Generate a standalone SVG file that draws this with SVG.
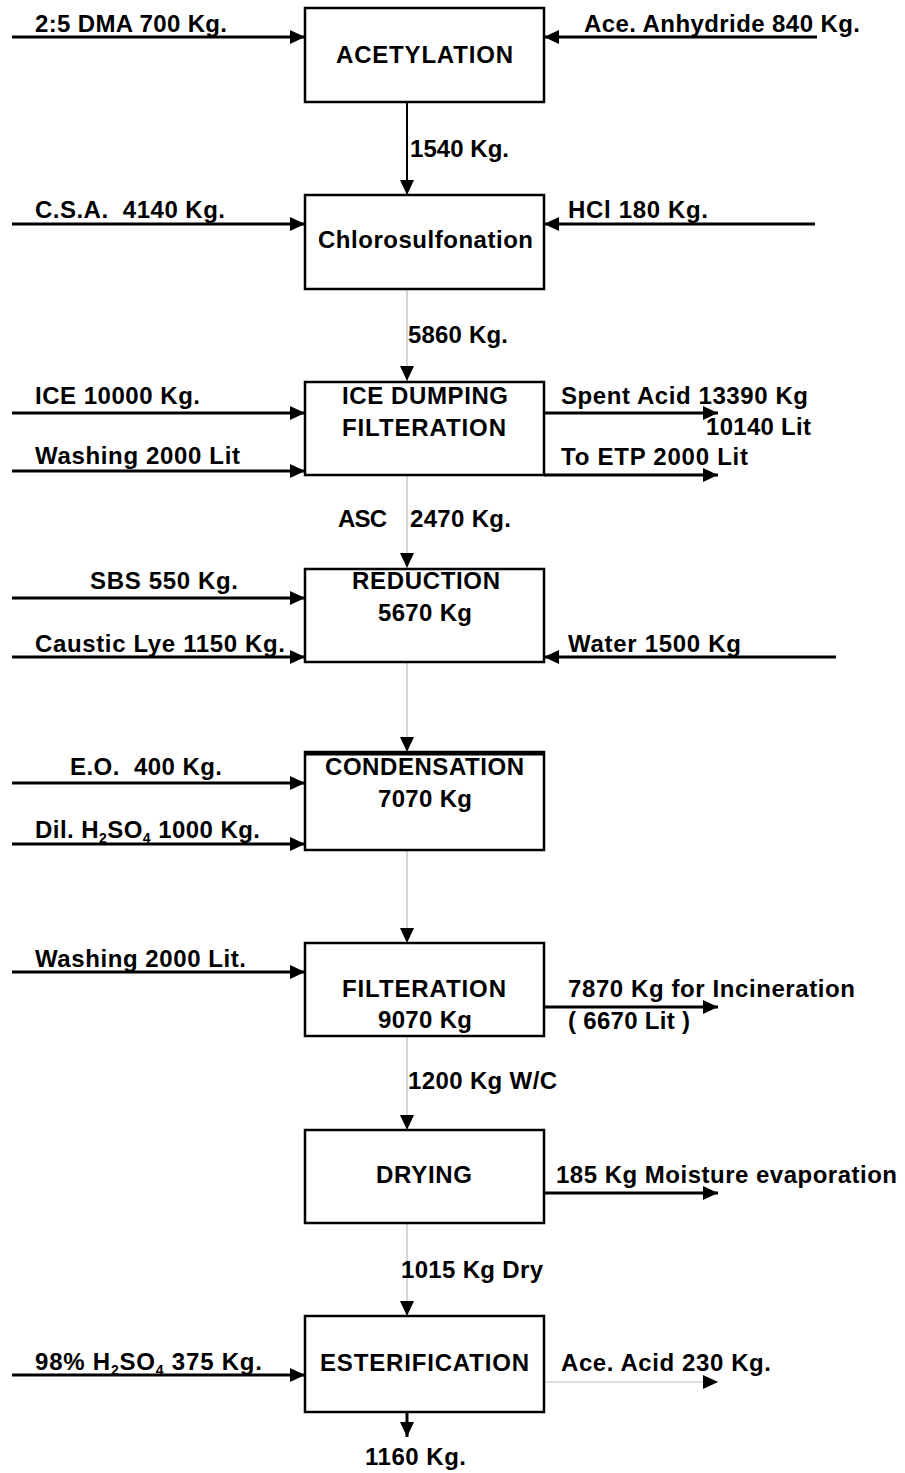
<svg xmlns="http://www.w3.org/2000/svg" width="905" height="1473" viewBox="0 0 905 1473">
<defs>
<style>
text{font-family:"Liberation Sans",Arial,sans-serif;font-weight:bold;font-size:24px;fill:#000}
.box{fill:#fff;stroke:#000;stroke-width:2.5}
.ln{stroke:#000;stroke-width:3;fill:none}
.gl{stroke:#bdbdbd;stroke-width:1.2;fill:none}
.sub{font-size:14px}
</style>
<marker id="ah" markerUnits="userSpaceOnUse" markerWidth="15" markerHeight="14" refX="15" refY="7" orient="auto">
<path d="M0,0 L15,7 L0,14 Z" fill="#000"/>
</marker>
</defs>
<rect width="905" height="1473" fill="#fff"/>

<g id="connectors">
<line class="ln" x1="12" y1="37" x2="305" y2="37" marker-end="url(#ah)"/>
<line class="ln" x1="817" y1="37" x2="544" y2="37" marker-end="url(#ah)"/>
<line class="ln" x1="407" y1="102" x2="407" y2="195" marker-end="url(#ah)" style="stroke-width:2"/>
<line class="ln" x1="12" y1="224" x2="305" y2="224" marker-end="url(#ah)"/>
<line class="ln" x1="815" y1="224" x2="544" y2="224" marker-end="url(#ah)"/>
<line class="gl" x1="407" y1="289" x2="407" y2="381" marker-end="url(#ah)"/>
<line class="ln" x1="12" y1="413" x2="305" y2="413" marker-end="url(#ah)"/>
<line class="ln" x1="12" y1="471" x2="305" y2="471" marker-end="url(#ah)"/>
<line class="ln" x1="544" y1="413" x2="718" y2="413" marker-end="url(#ah)"/>
<line class="ln" x1="544" y1="475" x2="718" y2="475" marker-end="url(#ah)"/>
<line class="gl" x1="407" y1="475" x2="407" y2="568" marker-end="url(#ah)"/>
<line class="ln" x1="12" y1="598" x2="305" y2="598" marker-end="url(#ah)"/>
<line class="ln" x1="12" y1="657" x2="305" y2="657" marker-end="url(#ah)"/>
<line class="ln" x1="836" y1="657" x2="544" y2="657" marker-end="url(#ah)"/>
<line class="gl" x1="407" y1="662" x2="407" y2="752" marker-end="url(#ah)"/>
<line class="ln" x1="12" y1="783" x2="305" y2="783" marker-end="url(#ah)"/>
<line class="ln" x1="12" y1="844" x2="305" y2="844" marker-end="url(#ah)"/>
<line class="gl" x1="407" y1="850" x2="407" y2="943" marker-end="url(#ah)"/>
<line class="ln" x1="12" y1="972" x2="305" y2="972" marker-end="url(#ah)"/>
<line class="ln" x1="544" y1="1007" x2="718" y2="1007" marker-end="url(#ah)"/>
<line class="gl" x1="407" y1="1036" x2="407" y2="1130" marker-end="url(#ah)"/>
<line class="ln" x1="544" y1="1193" x2="718" y2="1193" marker-end="url(#ah)"/>
<line class="gl" x1="407" y1="1223" x2="407" y2="1316" marker-end="url(#ah)"/>
<line class="ln" x1="12" y1="1375" x2="305" y2="1375" marker-end="url(#ah)"/>
<line class="gl" x1="544" y1="1382" x2="718" y2="1382" marker-end="url(#ah)"/>
<line class="ln" x1="407" y1="1412" x2="407" y2="1437" marker-end="url(#ah)"/>

<g id="stream-labels">
<text x="35" y="32" textLength="192" lengthAdjust="spacing">2:5 DMA 700 Kg.</text>
<text x="584" y="32" textLength="276" lengthAdjust="spacing">Ace. Anhydride 840 Kg.</text>
<text x="410" y="157" textLength="99" lengthAdjust="spacing">1540 Kg.</text>
<text x="35" y="218" textLength="190" lengthAdjust="spacing" xml:space="preserve">C.S.A.  4140 Kg.</text>
<text x="568" y="218" textLength="140" lengthAdjust="spacing">HCl 180 Kg.</text>
<text x="408" y="343" textLength="100" lengthAdjust="spacing">5860 Kg.</text>
<text x="35" y="404" textLength="165" lengthAdjust="spacing">ICE 10000 Kg.</text>
<text x="35" y="464" textLength="205" lengthAdjust="spacing">Washing 2000 Lit</text>
<text x="561" y="404" textLength="247" lengthAdjust="spacing">Spent Acid 13390 Kg</text>
<text x="706" y="435" textLength="105" lengthAdjust="spacing">10140 Lit</text>
<text x="561" y="465" textLength="187" lengthAdjust="spacing">To ETP 2000 Lit</text>
<text x="338" y="527" textLength="49" lengthAdjust="spacing">ASC</text>
<text x="410" y="527" textLength="101" lengthAdjust="spacing">2470 Kg.</text>
<text x="90" y="589" textLength="148" lengthAdjust="spacing">SBS 550 Kg.</text>
<text x="35" y="652" textLength="250" lengthAdjust="spacing">Caustic Lye 1150 Kg.</text>
<text x="568" y="652" textLength="173" lengthAdjust="spacing">Water 1500 Kg</text>
<text x="70" y="775" textLength="152" lengthAdjust="spacing" xml:space="preserve">E.O.  400 Kg.</text>
<text x="35" y="838" textLength="225" lengthAdjust="spacing">Dil. H<tspan class="sub" dy="5">2</tspan><tspan dy="-5">SO</tspan><tspan class="sub" dy="5">4</tspan><tspan dy="-5"> 1000 Kg.</tspan></text>
<text x="35" y="967" textLength="211" lengthAdjust="spacing">Washing 2000 Lit.</text>
<text x="568" y="997" textLength="287" lengthAdjust="spacing">7870 Kg for Incineration</text>
<text x="568" y="1029" textLength="122" lengthAdjust="spacing">( 6670 Lit )</text>
<text x="408" y="1089" textLength="149" lengthAdjust="spacing">1200 Kg W/C</text>
<text x="556" y="1183" textLength="341" lengthAdjust="spacing">185 Kg Moisture evaporation</text>
<text x="401" y="1278" textLength="142" lengthAdjust="spacing">1015 Kg Dry</text>
<text x="35" y="1370" textLength="227" lengthAdjust="spacing">98% H<tspan class="sub" dy="5">2</tspan><tspan dy="-5">SO</tspan><tspan class="sub" dy="5">4</tspan><tspan dy="-5"> 375 Kg.</tspan></text>
<text x="561" y="1371" textLength="210" lengthAdjust="spacing">Ace. Acid 230 Kg.</text>
<text x="365" y="1465" textLength="101" lengthAdjust="spacing">1160 Kg.</text>
</g>
</g>

<g id="acetylation">
<rect class="box" x="305" y="8" width="239" height="94"/>
<text x="336" y="63" textLength="177" lengthAdjust="spacing">ACETYLATION</text>
</g>
<g id="chlorosulfonation">
<rect class="box" x="305" y="195" width="239" height="94"/>
<text x="318" y="248" textLength="215" lengthAdjust="spacing">Chlorosulfonation</text>
</g>
<g id="ice-dumping">
<rect class="box" x="305" y="382" width="239" height="93"/>
<text x="342" y="404" textLength="166" lengthAdjust="spacing">ICE DUMPING</text>
<text x="342" y="436" textLength="164" lengthAdjust="spacing">FILTERATION</text>
</g>
<g id="reduction">
<rect class="box" x="305" y="569" width="239" height="93"/>
<text x="352" y="589" textLength="148" lengthAdjust="spacing">REDUCTION</text>
<text x="378" y="621" textLength="94" lengthAdjust="spacing">5670 Kg</text>
</g>
<g id="condensation">
<rect class="box" x="305" y="752" width="239" height="98"/>
<line x1="305" y1="753.5" x2="544" y2="753.5" stroke="#000" stroke-width="4"/>
<text x="325" y="775" textLength="199" lengthAdjust="spacing">CONDENSATION</text>
<text x="378" y="807" textLength="94" lengthAdjust="spacing">7070 Kg</text>
</g>
<g id="filtration">
<rect class="box" x="305" y="943" width="239" height="93"/>
<text x="342" y="997" textLength="164" lengthAdjust="spacing">FILTERATION</text>
<text x="378" y="1028" textLength="94" lengthAdjust="spacing">9070 Kg</text>
</g>
<g id="drying">
<rect class="box" x="305" y="1130" width="239" height="93"/>
<text x="376" y="1183" textLength="96" lengthAdjust="spacing">DRYING</text>
</g>
<g id="esterification">
<rect class="box" x="305" y="1316" width="239" height="96"/>
<text x="320" y="1371" textLength="209" lengthAdjust="spacing">ESTERIFICATION</text>
</g>
</svg>
